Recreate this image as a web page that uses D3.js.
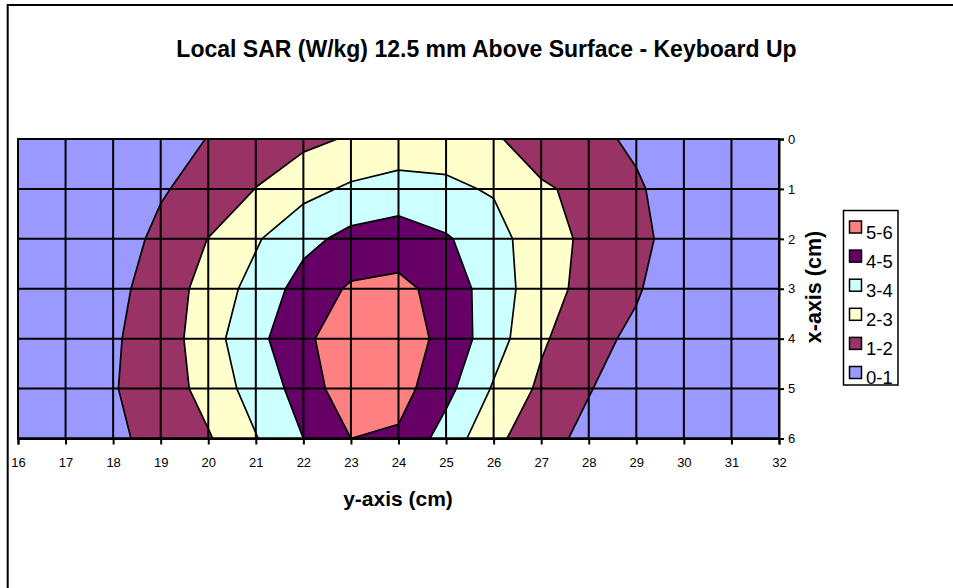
<!DOCTYPE html>
<html><head><meta charset="utf-8">
<script src="https://cdn.jsdelivr.net/npm/d3@7"></script>
<style>
body{margin:0;background:#fff}
svg{display:block}
text{font-family:"Liberation Sans",Arial,Helvetica,sans-serif;fill:#000}
</style>
</head><body>
<svg id="chart" width="953" height="588"></svg>
<script>
// ---- data ----
const yAxisCm = [16,17,18,19,20,21,22,23,24,25,26,27,28,29,30,31,32];   // columns (horizontal axis)
const xAxisCm = [0,1,2,3,4,5,6];                                           // rows (vertical axis)
// Local SAR (W/kg) at each grid point, one array per x-axis row
const sarX0 = [0.20,0.30,0.45,0.70,1.02,1.40,1.75,2.10,2.50,2.50,2.10,1.60,1.30,0.80,0.50,0.30,0.20];
const sarX1 = [0.30,0.45,0.70,0.95,1.20,2.02,2.70,3.15,3.30,3.20,2.90,2.10,1.80,1.15,0.40,0.30,0.25];
const sarX2 = [0.35,0.50,0.75,1.12,2.02,2.90,3.70,4.30,4.60,4.10,3.43,2.35,1.83,1.30,0.50,0.35,0.30];
const sarX3 = [0.40,0.60,0.85,1.25,2.50,3.29,4.43,5.125,5.19,4.73,3.38,2.57,1.57,1.10,0.35,0.35,0.30];
const sarX4 = [0.45,0.65,0.90,1.43,2.60,3.70,4.80,5.60,5.55,4.70,3.45,2.15,1.30,0.80,0.40,0.35,0.30];
const sarX5 = [0.45,0.70,0.95,1.40,2.40,3.40,4.40,5.70,5.40,4.30,2.90,1.80,1.05,0.50,0.40,0.30,0.30];
const sarX6 = [0.40,0.60,0.85,1.25,1.90,2.95,4.00,5.00,4.84,3.57,2.27,1.31,0.77,0.50,0.40,0.30,0.30];
const bandLevels = [1,2,3,4,5];
const bandLabels = ["0-1","1-2","2-3","3-4","4-5","5-6"];
const bandColors = ["#9999FF","#993366","#FFFFCC","#CCFFFF","#660066","#FF8080"];
const chartTitle = "Local SAR (W/kg) 12.5 mm Above Surface - Keyboard Up";

// ---- layout ----
const svg = d3.select("#chart");
const pL = 18, pR = 779, pT = 139, pB = 438.5;
const x = d3.scaleLinear().domain([yAxisCm[0], yAxisCm[yAxisCm.length-1]]).range([pL, pR]);
const y = d3.scaleLinear().domain([xAxisCm[0], xAxisCm[xAxisCm.length-1]]).range([pT, pB]);

// outer chart border (extends beyond the picture)
svg.append("rect").attr("x",7.7).attr("y",5).attr("width",1000).attr("height",1000)
  .attr("fill","none").attr("stroke","#000").attr("stroke-width",2);

// title
svg.append("text").attr("x",486.5).attr("y",57).attr("text-anchor","middle")
  .attr("font-size","23px").attr("font-weight","bold").text(chartTitle);

// clip
svg.append("defs").append("clipPath").attr("id","plotClip")
  .append("rect").attr("x",pL).attr("y",pT).attr("width",pR-pL).attr("height",pB-pT);

const plot = svg.append("g").attr("clip-path","url(#plotClip)");
plot.append("rect").attr("x",pL).attr("y",pT).attr("width",pR-pL).attr("height",pB-pT)
  .attr("fill",bandColors[0]);

const rows = [sarX0,sarX1,sarX2,sarX3,sarX4,sarX5,sarX6];
const values = rows.flat();
const nx = yAxisCm.length, ny = xAxisCm.length;
const bands = d3.contours().size([nx, ny]).thresholds(bandLevels)(values);
const proj = d3.geoTransform({
  point: function(px, py) {
    this.stream.point(x(yAxisCm[0] + px - 0.5), y(xAxisCm[0] + py - 0.5));
  }
});
const path = d3.geoPath(proj);
plot.selectAll("path.band").data(bands).join("path").attr("class","band")
  .attr("d", path)
  .attr("fill", (d,i) => bandColors[i+1])
  .attr("stroke","#000").attr("stroke-width",1.7).attr("stroke-linejoin","round");

// gridlines
const grid = svg.append("g");
grid.selectAll("line.v").data(yAxisCm).join("line").attr("class","v")
  .attr("x1",d=>x(d)).attr("x2",d=>x(d)).attr("y1",pT).attr("y2",pB)
  .attr("stroke","#000").attr("stroke-width",2);
grid.selectAll("line.h").data(xAxisCm).join("line").attr("class","h")
  .attr("x1",pL).attr("x2",pR).attr("y1",d=>y(d)).attr("y2",d=>y(d))
  .attr("stroke","#000").attr("stroke-width",2);

// axes
const xAxis = d3.axisBottom(x).tickValues(yAxisCm).tickFormat(d3.format("d")).tickSize(6).tickPadding(13);
const gx = svg.append("g").attr("transform",`translate(0,${pB})`).call(xAxis);
gx.select(".domain").attr("stroke","#000").attr("stroke-width",2);
gx.selectAll(".tick line").attr("stroke","#000").attr("stroke-width",2);
gx.selectAll(".tick text").attr("font-size","13px").attr("font-family","'Liberation Sans',Arial,sans-serif").attr("fill","#000");

const yAxis = d3.axisRight(y).tickValues(xAxisCm).tickFormat(d3.format("d")).tickSize(5).tickPadding(4);
const gy = svg.append("g").attr("transform",`translate(${pR},0)`).call(yAxis);
gy.select(".domain").attr("stroke","#000").attr("stroke-width",2);
gy.selectAll(".tick line").attr("stroke","#000").attr("stroke-width",2);
gy.selectAll(".tick text").attr("font-size","13px").attr("font-family","'Liberation Sans',Arial,sans-serif").attr("fill","#000");

// plot border
svg.append("rect").attr("x",pL).attr("y",pT).attr("width",pR-pL).attr("height",pB-pT)
  .attr("fill","none").attr("stroke","#000").attr("stroke-width",2);

// axis titles
svg.append("text").attr("x",398).attr("y",506).attr("text-anchor","middle")
  .attr("font-size","21px").attr("font-weight","bold").text("y-axis (cm)");
svg.append("text").attr("transform","translate(821,287) rotate(-90)").attr("text-anchor","middle")
  .attr("font-size","21.5px").attr("font-weight","bold").text("x-axis (cm)");

// legend
const lg = svg.append("g");
lg.append("rect").attr("x",843.5).attr("y",210.5).attr("width",54.5).attr("height",174.5)
  .attr("fill","#fff").attr("stroke","#000").attr("stroke-width",1.5);
const order = d3.range(bandLabels.length).reverse();
const items = lg.selectAll("g.item").data(order).join("g").attr("class","item")
  .attr("transform",(d,i)=>`translate(849.5,${221 + i*29.1})`);
items.append("rect").attr("width",12).attr("height",12)
  .attr("fill",d=>bandColors[d]).attr("stroke","#000").attr("stroke-width",1.5);
items.append("text").attr("x",16.5).attr("y",17.5).attr("font-size","18.5px").text(d=>bandLabels[d]);
</script>
</body></html>
